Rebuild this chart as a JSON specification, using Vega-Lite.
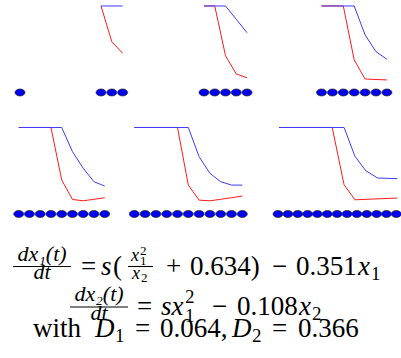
{
  "$schema": "https://vega.github.io/schema/vega-lite/v6.json",
  "padding": 0,
  "background": "white",
  "config": {
    "view": {"stroke": null},
    "axis": {"disable": true},
    "style": {
      "rm": {"font": "Liberation Serif, DejaVu Serif, serif", "fontSize": 27, "align": "left", "baseline": "alphabetic", "color": "black"},
      "it": {"font": "Liberation Serif, DejaVu Serif, serif", "fontSize": 27, "fontStyle": "italic", "align": "left", "baseline": "alphabetic", "color": "black"},
      "sub": {"font": "Liberation Serif, DejaVu Serif, serif", "fontSize": 19, "align": "left", "baseline": "alphabetic", "color": "black"},
      "frac": {"font": "Liberation Serif, DejaVu Serif, serif", "fontSize": 22, "fontStyle": "italic", "align": "center", "baseline": "alphabetic", "color": "black"},
      "itsmall": {"font": "Liberation Serif, DejaVu Serif, serif", "fontSize": 18, "fontStyle": "italic", "align": "left", "baseline": "alphabetic", "color": "black"},
      "subsmall": {"font": "Liberation Serif, DejaVu Serif, serif", "fontSize": 13, "align": "left", "baseline": "alphabetic", "color": "black"}
    }
  },
  "datasets": {
    "profiles": [
      {"panel": 1, "species": "v", "pos": 1, "level": 1},
      {"panel": 1, "species": "v", "pos": 2, "level": 0.587},
      {"panel": 1, "species": "v", "pos": 3, "level": 0.453},
      {"panel": 1, "species": "u", "pos": 1, "level": 1},
      {"panel": 1, "species": "u", "pos": 3, "level": 1},

      {"panel": 2, "species": "v", "pos": 1, "level": 1},
      {"panel": 2, "species": "v", "pos": 2, "level": 1},
      {"panel": 2, "species": "v", "pos": 3, "level": 0.425},
      {"panel": 2, "species": "v", "pos": 4, "level": 0.214},
      {"panel": 2, "species": "v", "pos": 5, "level": 0.171},
      {"panel": 2, "species": "u", "pos": 1, "level": 1},
      {"panel": 2, "species": "u", "pos": 3, "level": 1},
      {"panel": 2, "species": "u", "pos": 4, "level": 0.846},
      {"panel": 2, "species": "u", "pos": 5, "level": 0.691},

      {"panel": 3, "species": "v", "pos": 1, "level": 1},
      {"panel": 3, "species": "v", "pos": 3, "level": 1},
      {"panel": 3, "species": "v", "pos": 4, "level": 0.376},
      {"panel": 3, "species": "v", "pos": 5, "level": 0.156},
      {"panel": 3, "species": "v", "pos": 6, "level": 0.15},
      {"panel": 3, "species": "v", "pos": 7, "level": 0.145},
      {"panel": 3, "species": "u", "pos": 1, "level": 1},
      {"panel": 3, "species": "u", "pos": 4, "level": 1},
      {"panel": 3, "species": "u", "pos": 5, "level": 0.665},
      {"panel": 3, "species": "u", "pos": 6, "level": 0.472},
      {"panel": 3, "species": "u", "pos": 7, "level": 0.384},

      {"panel": 4, "species": "v", "pos": 1, "level": 1},
      {"panel": 4, "species": "v", "pos": 4, "level": 1},
      {"panel": 4, "species": "v", "pos": 5, "level": 0.393},
      {"panel": 4, "species": "v", "pos": 6, "level": 0.168},
      {"panel": 4, "species": "v", "pos": 7, "level": 0.152},
      {"panel": 4, "species": "v", "pos": 8, "level": 0.17},
      {"panel": 4, "species": "v", "pos": 9, "level": 0.187},
      {"panel": 4, "species": "u", "pos": 1, "level": 1},
      {"panel": 4, "species": "u", "pos": 5, "level": 1},
      {"panel": 4, "species": "u", "pos": 6, "level": 0.721},
      {"panel": 4, "species": "u", "pos": 7, "level": 0.528},
      {"panel": 4, "species": "u", "pos": 8, "level": 0.373},
      {"panel": 4, "species": "u", "pos": 9, "level": 0.323},

      {"panel": 5, "species": "v", "pos": 1, "level": 1},
      {"panel": 5, "species": "v", "pos": 5, "level": 1},
      {"panel": 5, "species": "v", "pos": 6, "level": 0.334},
      {"panel": 5, "species": "v", "pos": 7, "level": 0.16},
      {"panel": 5, "species": "v", "pos": 8, "level": 0.152},
      {"panel": 5, "species": "v", "pos": 9, "level": 0.17},
      {"panel": 5, "species": "v", "pos": 10, "level": 0.188},
      {"panel": 5, "species": "v", "pos": 11, "level": 0.207},
      {"panel": 5, "species": "u", "pos": 1, "level": 1},
      {"panel": 5, "species": "u", "pos": 6, "level": 1},
      {"panel": 5, "species": "u", "pos": 7, "level": 0.663},
      {"panel": 5, "species": "u", "pos": 8, "level": 0.47},
      {"panel": 5, "species": "u", "pos": 9, "level": 0.373},
      {"panel": 5, "species": "u", "pos": 10, "level": 0.334},
      {"panel": 5, "species": "u", "pos": 11, "level": 0.334},

      {"panel": 6, "species": "v", "pos": 1.1, "level": 1},
      {"panel": 6, "species": "v", "pos": 6.5, "level": 1},
      {"panel": 6, "species": "v", "pos": 7.7, "level": 0.338},
      {"panel": 6, "species": "v", "pos": 8.8, "level": 0.164},
      {"panel": 6, "species": "v", "pos": 13.1, "level": 0.184},
      {"panel": 6, "species": "u", "pos": 1.1, "level": 1},
      {"panel": 6, "species": "u", "pos": 7.7, "level": 1},
      {"panel": 6, "species": "u", "pos": 8.8, "level": 0.668},
      {"panel": 6, "species": "u", "pos": 9.9, "level": 0.5},
      {"panel": 6, "species": "u", "pos": 11.1, "level": 0.416},
      {"panel": 6, "species": "u", "pos": 13.1, "level": 0.408}
    ],
    "cells": [
      {"panel": 1, "cell": -6.5}, {"panel": 1, "cell": 1}, {"panel": 1, "cell": 2}, {"panel": 1, "cell": 3},
      {"panel": 2, "cell": 1}, {"panel": 2, "cell": 2}, {"panel": 2, "cell": 3}, {"panel": 2, "cell": 4}, {"panel": 2, "cell": 5},
      {"panel": 3, "cell": 1}, {"panel": 3, "cell": 2}, {"panel": 3, "cell": 3}, {"panel": 3, "cell": 4}, {"panel": 3, "cell": 5}, {"panel": 3, "cell": 6}, {"panel": 3, "cell": 7},
      {"panel": 4, "cell": 1}, {"panel": 4, "cell": 2}, {"panel": 4, "cell": 3}, {"panel": 4, "cell": 4}, {"panel": 4, "cell": 5}, {"panel": 4, "cell": 6}, {"panel": 4, "cell": 7}, {"panel": 4, "cell": 8}, {"panel": 4, "cell": 9},
      {"panel": 5, "cell": 1}, {"panel": 5, "cell": 2}, {"panel": 5, "cell": 3}, {"panel": 5, "cell": 4}, {"panel": 5, "cell": 5}, {"panel": 5, "cell": 6}, {"panel": 5, "cell": 7}, {"panel": 5, "cell": 8}, {"panel": 5, "cell": 9}, {"panel": 5, "cell": 10}, {"panel": 5, "cell": 11},
      {"panel": 6, "cell": 1}, {"panel": 6, "cell": 2}, {"panel": 6, "cell": 3}, {"panel": 6, "cell": 4}, {"panel": 6, "cell": 5}, {"panel": 6, "cell": 6}, {"panel": 6, "cell": 7}, {"panel": 6, "cell": 8}, {"panel": 6, "cell": 9}, {"panel": 6, "cell": 10}, {"panel": 6, "cell": 11}, {"panel": 6, "cell": 12}, {"panel": 6, "cell": 13}
    ]
  },
  "spacing": 21.5,
  "vconcat": [
    {
      "spacing": 8,
      "bounds": "flush",
      "hconcat": [
        {
          "width": 128, "height": 100,
          "layer": [
            {"data": {"name": "profiles"}, "transform": [{"filter": "datum.panel == 1 && datum.species == 'v'"}],
             "mark": {"type": "line", "color": "#ff1a1a", "strokeWidth": 1},
             "encoding": {"x": {"field": "pos", "type": "quantitative", "scale": {"domain": [-8.352, 3.5], "nice": false, "zero": false}},
                          "y": {"field": "level", "type": "quantitative", "scale": {"domain": [-0.087, 1.069], "nice": false, "zero": false}}}},
            {"data": {"name": "profiles"}, "transform": [{"filter": "datum.panel == 1 && datum.species == 'u'"}],
             "mark": {"type": "line", "color": "#3c3cff", "strokeWidth": 1},
             "encoding": {"x": {"field": "pos", "type": "quantitative"}, "y": {"field": "level", "type": "quantitative"}}},
            {"data": {"name": "cells"}, "transform": [{"filter": "datum.panel == 1"}],
             "mark": {"type": "point", "shape": "M-1,0A1,0.7,0,1,1,1,0A1,0.7,0,1,1,-1,0Z", "size": 100, "filled": true, "fill": "#0000f0", "stroke": "#222222", "strokeWidth": 0.7, "opacity": 1},
             "encoding": {"x": {"field": "cell", "type": "quantitative"}, "y": {"datum": 0, "type": "quantitative"}}}
          ]
        },
        {
          "width": 128, "height": 100,
          "layer": [
            {"data": {"name": "profiles"}, "transform": [{"filter": "datum.panel == 2 && datum.species == 'v'"}],
             "mark": {"type": "line", "color": "#ff1a1a", "strokeWidth": 1},
             "encoding": {"x": {"field": "pos", "type": "quantitative", "scale": {"domain": [-5.326, 6.581], "nice": false, "zero": false}},
                          "y": {"field": "level", "type": "quantitative", "scale": {"domain": [-0.087, 1.069], "nice": false, "zero": false}}}},
            {"data": {"name": "profiles"}, "transform": [{"filter": "datum.panel == 2 && datum.species == 'u'"}],
             "mark": {"type": "line", "color": "#3c3cff", "strokeWidth": 1},
             "encoding": {"x": {"field": "pos", "type": "quantitative"}, "y": {"field": "level", "type": "quantitative"}}},
            {"data": {"name": "cells"}, "transform": [{"filter": "datum.panel == 2"}],
             "mark": {"type": "point", "shape": "M-1,0A1,0.7,0,1,1,1,0A1,0.7,0,1,1,-1,0Z", "size": 100, "filled": true, "fill": "#0000f0", "stroke": "#222222", "strokeWidth": 0.7, "opacity": 1},
             "encoding": {"x": {"field": "cell", "type": "quantitative"}, "y": {"datum": 0, "type": "quantitative"}}}
          ]
        },
        {
          "width": 128, "height": 100,
          "layer": [
            {"data": {"name": "profiles"}, "transform": [{"filter": "datum.panel == 3 && datum.species == 'v'"}],
             "mark": {"type": "line", "color": "#ff1a1a", "strokeWidth": 1},
             "encoding": {"x": {"field": "pos", "type": "quantitative", "scale": {"domain": [-3.541, 8.202], "nice": false, "zero": false}},
                          "y": {"field": "level", "type": "quantitative", "scale": {"domain": [-0.087, 1.069], "nice": false, "zero": false}}}},
            {"data": {"name": "profiles"}, "transform": [{"filter": "datum.panel == 3 && datum.species == 'u'"}],
             "mark": {"type": "line", "color": "#3c3cff", "strokeWidth": 1},
             "encoding": {"x": {"field": "pos", "type": "quantitative"}, "y": {"field": "level", "type": "quantitative"}}},
            {"data": {"name": "cells"}, "transform": [{"filter": "datum.panel == 3"}],
             "mark": {"type": "point", "shape": "M-1,0A1,0.7,0,1,1,1,0A1,0.7,0,1,1,-1,0Z", "size": 100, "filled": true, "fill": "#0000f0", "stroke": "#222222", "strokeWidth": 0.7, "opacity": 1},
             "encoding": {"x": {"field": "cell", "type": "quantitative"}, "y": {"datum": 0, "type": "quantitative"}}}
          ]
        }
      ]
    },
    {
      "spacing": 8,
      "bounds": "flush",
      "hconcat": [
        {
          "width": 128, "height": 100,
          "layer": [
            {"data": {"name": "profiles"}, "transform": [{"filter": "datum.panel == 4 && datum.species == 'v'"}],
             "mark": {"type": "line", "color": "#ff1a1a", "strokeWidth": 1},
             "encoding": {"x": {"field": "pos", "type": "quantitative", "scale": {"domain": [-0.74, 11.167], "nice": false, "zero": false}},
                          "y": {"field": "level", "type": "quantitative", "scale": {"domain": [-0.087, 1.069], "nice": false, "zero": false}}}},
            {"data": {"name": "profiles"}, "transform": [{"filter": "datum.panel == 4 && datum.species == 'u'"}],
             "mark": {"type": "line", "color": "#3c3cff", "strokeWidth": 1},
             "encoding": {"x": {"field": "pos", "type": "quantitative"}, "y": {"field": "level", "type": "quantitative"}}},
            {"data": {"name": "cells"}, "transform": [{"filter": "datum.panel == 4"}],
             "mark": {"type": "point", "shape": "M-1,0A1,0.7,0,1,1,1,0A1,0.7,0,1,1,-1,0Z", "size": 100, "filled": true, "fill": "#0000f0", "stroke": "#222222", "strokeWidth": 0.7, "opacity": 1},
             "encoding": {"x": {"field": "cell", "type": "quantitative"}, "y": {"datum": 0, "type": "quantitative"}}}
          ]
        },
        {
          "width": 128, "height": 100,
          "layer": [
            {"data": {"name": "profiles"}, "transform": [{"filter": "datum.panel == 5 && datum.species == 'v'"}],
             "mark": {"type": "line", "color": "#ff1a1a", "strokeWidth": 1},
             "encoding": {"x": {"field": "pos", "type": "quantitative", "scale": {"domain": [1.157, 13.009], "nice": false, "zero": false}},
                          "y": {"field": "level", "type": "quantitative", "scale": {"domain": [-0.087, 1.069], "nice": false, "zero": false}}}},
            {"data": {"name": "profiles"}, "transform": [{"filter": "datum.panel == 5 && datum.species == 'u'"}],
             "mark": {"type": "line", "color": "#3c3cff", "strokeWidth": 1},
             "encoding": {"x": {"field": "pos", "type": "quantitative"}, "y": {"field": "level", "type": "quantitative"}}},
            {"data": {"name": "cells"}, "transform": [{"filter": "datum.panel == 5"}],
             "mark": {"type": "point", "shape": "M-1,0A1,0.7,0,1,1,1,0A1,0.7,0,1,1,-1,0Z", "size": 100, "filled": true, "fill": "#0000f0", "stroke": "#222222", "strokeWidth": 0.7, "opacity": 1},
             "encoding": {"x": {"field": "cell", "type": "quantitative"}, "y": {"datum": 0, "type": "quantitative"}}}
          ]
        },
        {
          "width": 128, "height": 100,
          "layer": [
            {"data": {"name": "profiles"}, "transform": [{"filter": "datum.panel == 6 && datum.species == 'v'"}],
             "mark": {"type": "line", "color": "#ff1a1a", "strokeWidth": 1},
             "encoding": {"x": {"field": "pos", "type": "quantitative", "scale": {"domain": [0.391, 13.373], "nice": false, "zero": false}},
                          "y": {"field": "level", "type": "quantitative", "scale": {"domain": [-0.087, 1.069], "nice": false, "zero": false}}}},
            {"data": {"name": "profiles"}, "transform": [{"filter": "datum.panel == 6 && datum.species == 'u'"}],
             "mark": {"type": "line", "color": "#3c3cff", "strokeWidth": 1},
             "encoding": {"x": {"field": "pos", "type": "quantitative"}, "y": {"field": "level", "type": "quantitative"}}},
            {"data": {"name": "cells"}, "transform": [{"filter": "datum.panel == 6"}],
             "mark": {"type": "point", "shape": "M-1,0A1,0.7,0,1,1,1,0A1,0.7,0,1,1,-1,0Z", "size": 100, "filled": true, "fill": "#0000f0", "stroke": "#222222", "strokeWidth": 0.7, "opacity": 1},
             "encoding": {"x": {"field": "cell", "type": "quantitative"}, "y": {"datum": 0, "type": "quantitative"}}}
          ]
        }
      ]
    },
    {
      "width": 400, "height": 115,
      "data": {"values": [{}]},
      "encoding": {
        "x": {"type": "quantitative", "scale": {"domain": [0, 400], "nice": false, "zero": false}},
        "y": {"type": "quantitative", "scale": {"domain": [243, 358], "nice": false, "zero": false, "reverse": true}}
      },
      "layer": [
        {"mark": {"type": "text", "style": "frac", "text": "dx₁(t)"}, "encoding": {"x": {"datum": 42}, "y": {"datum": 261}}},
        {"mark": {"type": "rule", "color": "black", "strokeWidth": 1.1}, "encoding": {"x": {"datum": 13}, "x2": {"datum": 71}, "y": {"datum": 266.5}}},
        {"mark": {"type": "text", "style": "frac", "text": "dt"}, "encoding": {"x": {"datum": 42}, "y": {"datum": 279}}},
        {"mark": {"type": "text", "style": "rm", "text": "="}, "encoding": {"x": {"datum": 81}, "y": {"datum": 275}}},
        {"mark": {"type": "text", "style": "it", "text": "s"}, "encoding": {"x": {"datum": 101}, "y": {"datum": 275}}},
        {"mark": {"type": "text", "style": "rm", "text": "("}, "encoding": {"x": {"datum": 113}, "y": {"datum": 275}}},
        {"mark": {"type": "text", "style": "itsmall", "text": "x"}, "encoding": {"x": {"datum": 131}, "y": {"datum": 261}}},
        {"mark": {"type": "text", "style": "subsmall", "text": "2"}, "encoding": {"x": {"datum": 140}, "y": {"datum": 255}}},
        {"mark": {"type": "text", "style": "subsmall", "text": "1"}, "encoding": {"x": {"datum": 140}, "y": {"datum": 265}}},
        {"mark": {"type": "rule", "color": "black", "strokeWidth": 1.1}, "encoding": {"x": {"datum": 128}, "x2": {"datum": 153}, "y": {"datum": 266.5}}},
        {"mark": {"type": "text", "style": "itsmall", "text": "x"}, "encoding": {"x": {"datum": 132}, "y": {"datum": 279}}},
        {"mark": {"type": "text", "style": "subsmall", "text": "2"}, "encoding": {"x": {"datum": 141}, "y": {"datum": 282}}},
        {"mark": {"type": "text", "style": "rm", "text": "+"}, "encoding": {"x": {"datum": 166}, "y": {"datum": 275}}},
        {"mark": {"type": "text", "style": "rm", "text": "0.634)"}, "encoding": {"x": {"datum": 190}, "y": {"datum": 275}}},
        {"mark": {"type": "text", "style": "rm", "text": "−"}, "encoding": {"x": {"datum": 272}, "y": {"datum": 275}}},
        {"mark": {"type": "text", "style": "rm", "text": "0.351"}, "encoding": {"x": {"datum": 296}, "y": {"datum": 275}}},
        {"mark": {"type": "text", "style": "it", "text": "x"}, "encoding": {"x": {"datum": 358}, "y": {"datum": 275}}},
        {"mark": {"type": "text", "style": "sub", "text": "1"}, "encoding": {"x": {"datum": 371}, "y": {"datum": 280}}},

        {"mark": {"type": "text", "style": "frac", "text": "dx₂(t)"}, "encoding": {"x": {"datum": 99}, "y": {"datum": 301}}},
        {"mark": {"type": "rule", "color": "black", "strokeWidth": 1.1}, "encoding": {"x": {"datum": 70}, "x2": {"datum": 128}, "y": {"datum": 307}}},
        {"mark": {"type": "text", "style": "frac", "text": "dt"}, "encoding": {"x": {"datum": 99}, "y": {"datum": 320}}},
        {"mark": {"type": "text", "style": "rm", "text": "="}, "encoding": {"x": {"datum": 137}, "y": {"datum": 315}}},
        {"mark": {"type": "text", "style": "it", "text": "sx"}, "encoding": {"x": {"datum": 161}, "y": {"datum": 315}}},
        {"mark": {"type": "text", "style": "sub", "text": "2"}, "encoding": {"x": {"datum": 185}, "y": {"datum": 303}}},
        {"mark": {"type": "text", "style": "sub", "text": "1"}, "encoding": {"x": {"datum": 185}, "y": {"datum": 322}}},
        {"mark": {"type": "text", "style": "rm", "text": "−"}, "encoding": {"x": {"datum": 212}, "y": {"datum": 315}}},
        {"mark": {"type": "text", "style": "rm", "text": "0.108"}, "encoding": {"x": {"datum": 237}, "y": {"datum": 315}}},
        {"mark": {"type": "text", "style": "it", "text": "x"}, "encoding": {"x": {"datum": 299}, "y": {"datum": 315}}},
        {"mark": {"type": "text", "style": "sub", "text": "2"}, "encoding": {"x": {"datum": 312}, "y": {"datum": 320}}},

        {"mark": {"type": "text", "style": "rm", "text": "with"}, "encoding": {"x": {"datum": 33}, "y": {"datum": 337}}},
        {"mark": {"type": "text", "style": "it", "text": "D"}, "encoding": {"x": {"datum": 95}, "y": {"datum": 337}}},
        {"mark": {"type": "text", "style": "sub", "text": "1"}, "encoding": {"x": {"datum": 115}, "y": {"datum": 342}}},
        {"mark": {"type": "text", "style": "rm", "text": "="}, "encoding": {"x": {"datum": 135}, "y": {"datum": 337}}},
        {"mark": {"type": "text", "style": "rm", "text": "0.064,"}, "encoding": {"x": {"datum": 160}, "y": {"datum": 337}}},
        {"mark": {"type": "text", "style": "it", "text": "D"}, "encoding": {"x": {"datum": 232}, "y": {"datum": 337}}},
        {"mark": {"type": "text", "style": "sub", "text": "2"}, "encoding": {"x": {"datum": 252}, "y": {"datum": 342}}},
        {"mark": {"type": "text", "style": "rm", "text": "="}, "encoding": {"x": {"datum": 272}, "y": {"datum": 337}}},
        {"mark": {"type": "text", "style": "rm", "text": "0.366"}, "encoding": {"x": {"datum": 298}, "y": {"datum": 337}}}
      ]
    }
  ]
}
